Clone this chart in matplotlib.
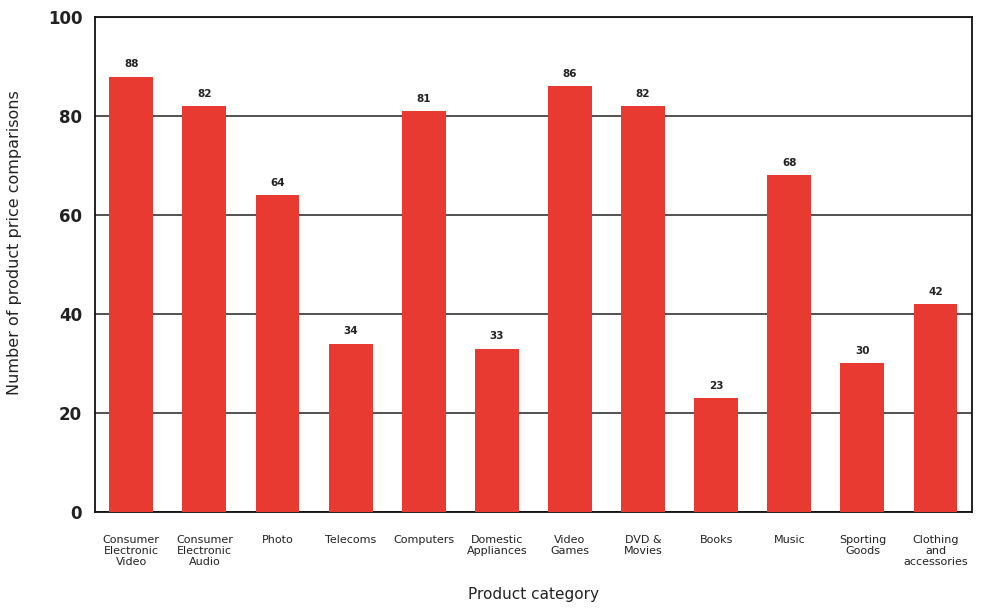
import numpy as np
import matplotlib
matplotlib.use("Agg")
import matplotlib.pyplot as plt

# Data
categories = ["Consumer\nElectronic\nVideo", "Consumer\nElectronic\nAudio", "Photo",
              "Telecoms", "Computers", "Domestic\nAppliances", "Video\nGames",
              "DVD &\nMovies", "Books", "Music", "Sporting\nGoods",
              "Clothing\nand\naccessories"]
counts = [88, 82, 64, 34, 81, 33, 86, 82, 23, 68, 30, 42]
yticks = [0, 20, 40, 60, 80, 100]

plt.rcParams['font.family'] = ['DejaVu Sans']

fig = plt.figure(figsize=(9.97, 6.13), dpi=100)
ax = fig.add_axes([0.095, 0.165, 0.88, 0.807])

x = np.arange(len(categories))
ax.bar(x, counts, width=0.6, color='#e83a30', zorder=3)

# value labels above bars
for xi, v in zip(x, counts):
    ax.text(xi, v + 1.5, str(v), ha='center', va='bottom', fontsize=7.5,
            fontweight='bold', color='#222222')

ax.set_xlim(-0.5, len(categories) - 0.5)
ax.set_ylim(0, 100)
ax.set_yticks(yticks)
ax.set_yticklabels([str(t) for t in yticks], fontsize=12, fontweight='bold',
                   color='#222222')
ax.yaxis.grid(True, color='#222222', linewidth=1.1, zorder=0)
ax.tick_params(axis='y', length=0, pad=9)
ax.tick_params(axis='x', length=0, pad=17)
ax.set_xticks(x)
ax.set_xticklabels(categories, fontsize=8, linespacing=1.1, va='top',
                   color='#222222')

for s in ax.spines.values():
    s.set_linewidth(1.3)
    s.set_color('#111111')

ax.set_ylabel("Number of product price comparisons", fontsize=11.5,
              color='#222222')
ax.yaxis.set_label_coords(-0.083, 0.545)
ax.set_xlabel("Product category", fontsize=11, labelpad=14, color='#222222')

fig.savefig("out.png", dpi=100)
